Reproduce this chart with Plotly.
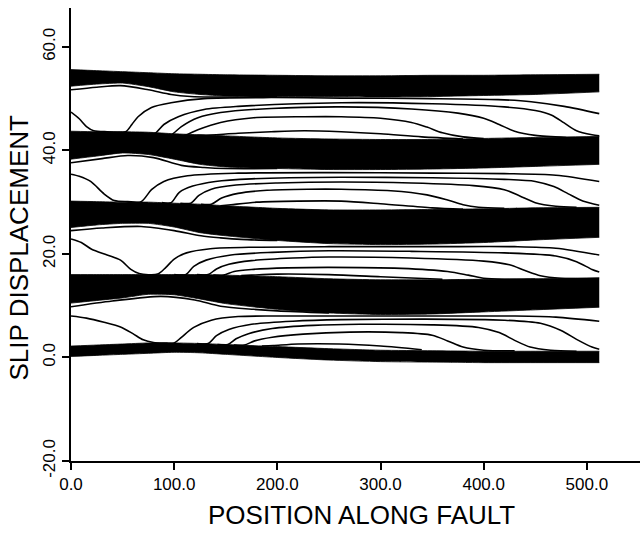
import plotly.graph_objects as go

# ---------------- data ----------------
BAND_X = [0, 25, 50, 75, 100, 125, 150, 200, 250, 300, 350, 400, 450, 512]

B1_TOP = [55.6, 55.4, 55.2, 55.0, 54.8, 54.7, 54.6, 54.5, 54.4, 54.4, 54.5, 54.5, 54.6, 54.7]
B1_BOT = [52.4, 52.8, 53.0, 52.3, 51.3, 50.8, 50.5, 50.4, 50.4, 50.3, 50.4, 50.6, 50.8, 51.3]
B2_TOP = [43.7, 43.6, 43.6, 43.5, 43.2, 43.0, 42.8, 42.4, 42.2, 42.1, 42.1, 42.3, 42.5, 42.7]
B2_BOT = [38.3, 38.9, 39.5, 39.2, 38.3, 37.3, 36.8, 36.5, 36.3, 36.3, 36.4, 36.6, 36.9, 37.3]
B3_TOP = [30.2, 30.1, 30.0, 30.0, 29.8, 29.6, 29.3, 28.8, 28.5, 28.5, 28.6, 28.7, 28.9, 29.0]
B3_BOT = [25.1, 25.6, 25.9, 25.9, 25.2, 24.1, 23.5, 22.6, 22.0, 21.8, 21.9, 22.2, 22.7, 23.2]
B4_TOP = [16.0, 16.0, 16.0, 16.0, 16.0, 16.0, 15.9, 15.6, 15.2, 15.0, 15.0, 15.1, 15.2, 15.4]
B4_BOT = [10.5, 11.0, 11.5, 12.2, 12.1, 11.3, 10.4, 9.3, 8.6, 8.3, 8.4, 8.8, 9.2, 9.7]
B5_TOP = [2.2, 2.4, 2.6, 2.8, 2.8, 2.7, 2.5, 2.1, 1.7, 1.4, 1.3, 1.2, 1.2, 1.2]
B5_BOT = [0.2, 0.4, 0.6, 0.8, 1.0, 0.9, 0.6, 0.0, -0.5, -0.8, -0.9, -1.0, -1.0, -1.0]

# individual slip profiles between the dense bands (x, y knots per curve)
G1_X = [
    [0, 25, 48, 75, 97, 116, 135, 200],
    [0, 8, 15, 22, 35, 53, 59, 65, 78, 97, 129, 194, 262, 349, 414, 446, 478, 512],
    [72, 81, 90, 104, 129, 162, 262, 350, 420, 450, 466, 478, 490, 505, 512],
    [88, 97, 107, 123, 145, 194, 262, 330, 375, 400, 415, 430, 450, 480],
    [102, 110, 123, 145, 177, 226, 262, 300, 330, 345, 360, 380, 400],
    [122, 129, 162, 194, 226, 262, 300, 340, 380],
]
G1_Y = [
    [51.7, 52.2, 52.5, 51.7, 50.8, 50.4, 50.3, 50.4],
    [47.4, 46.1, 44.6, 43.8, 43.6, 43.6, 45.0, 46.5, 48.3, 49.2, 50.0, 50.2, 50.1, 50.0, 49.8, 49.4, 48.5, 47.1],
    [43.3, 43.2, 45.0, 46.5, 47.9, 48.5, 49.2, 49.0, 48.4, 47.7, 46.8, 45.3, 43.8, 43.0, 42.8],
    [43.1, 43.0, 44.6, 46.3, 47.3, 48.1, 48.4, 48.0, 47.2, 46.2, 45.0, 43.7, 42.9, 42.5],
    [42.9, 42.9, 44.0, 45.4, 46.3, 46.5, 46.5, 46.2, 45.4, 44.5, 43.4, 42.6, 42.3],
    [42.9, 42.9, 43.3, 43.6, 43.8, 43.6, 43.2, 42.6, 42.2],
]
G2_X = [
    [0, 30, 55, 80, 107, 129, 150, 200],
    [0, 8, 19, 32, 42, 55, 68, 78, 90, 113, 162, 250, 350, 420, 470, 512],
    [88, 97, 105, 118, 140, 175, 262, 350, 420, 450, 468, 482, 496, 512],
    [106, 116, 124, 136, 160, 200, 262, 330, 390, 420, 435, 450, 470, 490],
    [126, 136, 146, 162, 190, 230, 262, 310, 345, 365, 380, 395, 420],
    [145, 155, 180, 220, 262, 300, 350, 380],
]
G2_Y = [
    [37.6, 38.4, 39.0, 38.6, 37.1, 36.7, 36.5, 36.5],
    [35.4, 35.0, 34.0, 31.6, 30.3, 30.1, 30.1, 32.4, 34.0, 35.1, 35.6, 35.7, 35.6, 35.5, 35.2, 34.0],
    [29.9, 29.9, 31.9, 33.1, 34.0, 34.5, 34.8, 34.7, 34.4, 34.0, 33.0, 31.6, 30.2, 29.4],
    [29.8, 29.8, 31.3, 32.5, 33.3, 33.7, 33.9, 33.7, 33.2, 32.4, 31.2, 29.9, 29.2, 29.0],
    [29.6, 29.6, 30.8, 31.7, 32.3, 32.5, 32.5, 32.2, 31.4, 30.4, 29.5, 29.0, 28.8],
    [29.3, 29.5, 30.0, 30.2, 30.2, 29.7, 28.9, 28.6],
]
G3_X = [
    [0, 30, 68, 100, 126, 145, 165, 200],
    [0, 10, 20, 35, 48, 58, 66, 84, 92, 100, 112, 135, 180, 250, 350, 430, 470, 512],
    [100, 111, 119, 131, 155, 195, 250, 330, 420, 470, 490, 505, 512],
    [122, 133, 141, 153, 175, 215, 250, 330, 400, 425, 440, 455, 475, 500],
    [138, 148, 158, 175, 210, 250, 320, 365, 385, 400, 420, 450],
    [165, 175, 200, 250, 300, 360],
]
G3_Y = [
    [24.5, 25.0, 25.3, 24.5, 23.5, 23.1, 22.8, 22.6],
    [22.9, 22.2, 20.9, 19.8, 18.8, 17.0, 16.2, 16.1, 17.4, 19.0, 20.2, 21.0, 21.3, 21.4, 21.4, 21.4, 21.1, 19.8],
    [16.0, 16.0, 17.6, 18.8, 19.8, 20.3, 20.6, 20.5, 20.2, 19.6, 18.5, 17.0, 16.5],
    [16.0, 16.0, 17.1, 18.0, 18.7, 19.2, 19.4, 19.2, 18.6, 17.9, 16.8, 15.8, 15.3, 15.2],
    [15.9, 15.9, 16.6, 17.0, 17.3, 17.4, 17.2, 16.6, 15.9, 15.3, 15.1, 15.1],
    [15.8, 15.9, 16.1, 16.0, 15.6, 15.1],
]
G4_X = [
    [0, 40, 87, 120, 145, 177, 200, 250],
    [0, 15, 32, 48, 60, 70, 80, 90, 100, 107, 119, 136, 162, 200, 260, 350, 430, 470, 512],
    [122, 133, 141, 153, 175, 215, 262, 340, 420, 455, 475, 490, 505, 512],
    [142, 152, 160, 172, 195, 235, 280, 350, 395, 415, 430, 445, 465, 490],
    [158, 168, 178, 195, 225, 270, 320, 350, 365, 380, 400, 430],
    [185, 196, 220, 260, 300, 340],
]
G4_Y = [
    [9.8, 10.9, 11.8, 11.1, 9.9, 9.3, 9.0, 8.6],
    [8.0, 7.6, 6.8, 5.9, 4.6, 3.4, 2.9, 2.8, 2.8, 3.9, 5.8, 7.2, 7.9, 8.0, 8.0, 8.0, 8.0, 7.8, 7.0],
    [2.7, 2.7, 4.2, 5.4, 6.4, 7.0, 7.3, 7.4, 7.2, 6.6, 5.2, 3.5, 2.0, 1.6],
    [2.5, 2.5, 3.6, 4.6, 5.6, 6.2, 6.4, 6.3, 5.8, 4.8, 3.3, 2.0, 1.4, 1.2],
    [2.4, 2.4, 3.2, 3.9, 4.5, 4.9, 4.8, 4.3, 3.2, 2.0, 1.4, 1.3],
    [2.2, 2.3, 2.6, 2.6, 2.2, 1.5],
]

X_TICKS = [0, 100, 200, 300, 400, 500]
X_TICK_TEXT = ["0.0", "100.0", "200.0", "300.0", "400.0", "500.0"]
Y_TICKS = [-20, 0, 20, 40, 60]
Y_TICK_TEXT = ["-20.0", "0.0", "20.0", "40.0", "60.0"]

X_TITLE = "POSITION ALONG FAULT"
Y_TITLE = "SLIP DISPLACEMENT"

# ---------------- figure ----------------
FONT = "Liberation Sans, Arial, sans-serif"
fig = go.Figure()

bands = [(B1_TOP, B1_BOT), (B2_TOP, B2_BOT), (B3_TOP, B3_BOT), (B4_TOP, B4_BOT), (B5_TOP, B5_BOT)]
for top, bot in bands:
    fig.add_trace(go.Scatter(x=BAND_X, y=bot, mode="lines",
                             line=dict(color="black", width=0.8, shape="spline", smoothing=0.6),
                             hoverinfo="skip", showlegend=False))
    fig.add_trace(go.Scatter(x=BAND_X, y=top, mode="lines", fill="tonexty", fillcolor="black",
                             line=dict(color="black", width=0.8, shape="spline", smoothing=0.6),
                             hoverinfo="skip", showlegend=False))

for gx, gy in [(G1_X, G1_Y), (G2_X, G2_Y), (G3_X, G3_Y), (G4_X, G4_Y)]:
    for cx, cy in zip(gx, gy):
        fig.add_trace(go.Scatter(x=cx, y=cy, mode="lines",
                                 line=dict(color="black", width=1.6, shape="spline", smoothing=0.8),
                                 hoverinfo="skip", showlegend=False))

fig.update_layout(
    width=640, height=538,
    margin=dict(l=71, r=0, t=8, b=77),
    paper_bgcolor="white", plot_bgcolor="white",
    showlegend=False,
    font=dict(family=FONT, color="black"),
    xaxis=dict(range=[0, 551.5], tickvals=X_TICKS, ticktext=X_TICK_TEXT,
               ticks="outside", ticklen=7, tickwidth=1.5, tickcolor="black",
               showline=True, linecolor="black", linewidth=1.5,
               showgrid=False, zeroline=False,
               tickfont=dict(family=FONT, size=17, color="black")),
    yaxis=dict(range=[-20, 67.5], tickvals=Y_TICKS, ticktext=Y_TICK_TEXT,
               tickangle=-90,
               ticks="outside", ticklen=7, tickwidth=1.5, tickcolor="black",
               showline=True, linecolor="black", linewidth=1.5,
               showgrid=False, zeroline=False,
               tickfont=dict(family=FONT, size=17, color="black")),
    annotations=[
        dict(text=X_TITLE, xref="paper", yref="paper", x=0.5097, y=-0.119,
             xanchor="center", yanchor="middle", showarrow=False,
             font=dict(family=FONT, size=26, color="black")),
        dict(text=Y_TITLE, xref="paper", yref="paper", x=-0.0914, y=0.4713,
             xanchor="center", yanchor="middle", showarrow=False, textangle=-90,
             font=dict(family=FONT, size=26, color="black")),
    ],
)

fig.write_html("out.html")
